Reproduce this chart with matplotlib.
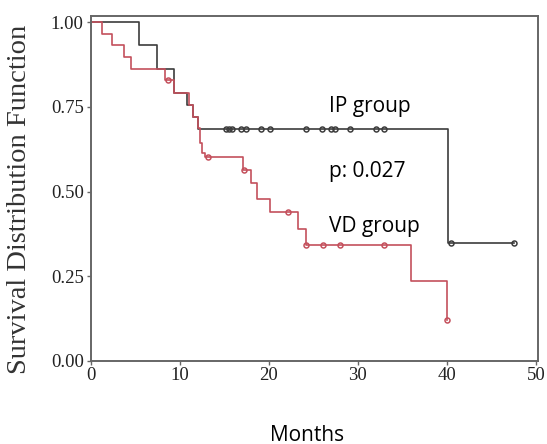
import matplotlib
matplotlib.use("Agg")
import matplotlib.pyplot as plt
import numpy as np

# Kaplan-Meier curves (months, survival)
ip_time = [0, 5.4, 7.45, 9.36, 10.85, 11.5, 12.0, 40.1, 47.5]
ip_surv = [1.0, 0.933, 0.861, 0.79, 0.755, 0.72, 0.684, 0.348, 0.348]
ip_cens = [15.2, 15.57, 15.9, 16.9, 17.4, 19.1, 20.1, 24.2, 26.0, 27.0,
           27.4, 29.1, 32.0, 33.0, 40.5, 47.5]

vd_time = [0, 1.3, 2.4, 3.7, 4.55, 8.4, 9.36, 11.05, 11.5, 12.0, 12.3,
           12.5, 12.85, 17.1, 18.0, 18.65, 20.1, 23.3, 24.2, 36.0, 40.0]
vd_surv = [1.0, 0.967, 0.933, 0.898, 0.861, 0.829, 0.79, 0.755, 0.72, 0.687,
           0.643, 0.613, 0.603, 0.563, 0.524, 0.477, 0.438, 0.388, 0.342,
           0.235, 0.12]
vd_cens = [8.7, 13.15, 17.2, 22.2, 24.2, 26.1, 28.0, 33.0, 40.0]

x_ticks = [0, 10, 20, 30, 40, 50]
y_ticks = [0.0, 0.25, 0.5, 0.75, 1.0]
y_ticklabels = ["0.00", "0.25", "0.50", "0.75", "1.00"]

ip_color = "#3c3c3c"
vd_color = "#c4505c"


def surv_at(times, surv, t):
    idx = np.searchsorted(times, t, side="right") - 1
    return np.asarray(surv)[idx]


fig = plt.figure(figsize=(5.47, 4.44), dpi=100)
ax = fig.add_axes([0.1658, 0.188, 0.817, 0.7766])

for times, surv, cens, col in [(ip_time, ip_surv, ip_cens, ip_color),
                               (vd_time, vd_surv, vd_cens, vd_color)]:
    ax.step(times, surv, where="post", color=col, lw=1.2)
    ax.plot(cens, surv_at(times, surv, cens), "o", ms=3.6, mfc="none",
            mec=col, mew=1.1, ls="none")

ax.set_xlim(0, 50.2)
ax.set_ylim(0, 1.02)
ax.set_xticks(x_ticks)
ax.set_yticks(y_ticks)
ax.set_yticklabels(y_ticklabels)

serif = "Liberation Serif"
for lab in ax.get_xticklabels() + ax.get_yticklabels():
    lab.set_family(serif)
    lab.set_fontsize(13.5)
    lab.set_color("#222222")
ax.tick_params(direction="out", length=3, width=1, color="#666666", pad=2)
for sp in ax.spines.values():
    sp.set_color("#666666")
    sp.set_linewidth(1.4)

sans = "Open Sans"
ax.text(26.8, 0.736, "IP group", family=sans, fontsize=15, va="baseline")
ax.text(26.8, 0.542, "p: 0.027", family=sans, fontsize=15, va="baseline")
ax.text(26.8, 0.381, "VD group", family=sans, fontsize=15, va="baseline")

fig.text(20 / 547, 0.55, "Survival Distribution Function", family=serif,
         fontsize=20.5, rotation=90, ha="center", va="center", color="#333333")
fig.text(307 / 547, 1 - 435 / 444, "Months", family=sans, fontsize=15,
         ha="center", va="center")

fig.savefig("out.png", dpi=100)
